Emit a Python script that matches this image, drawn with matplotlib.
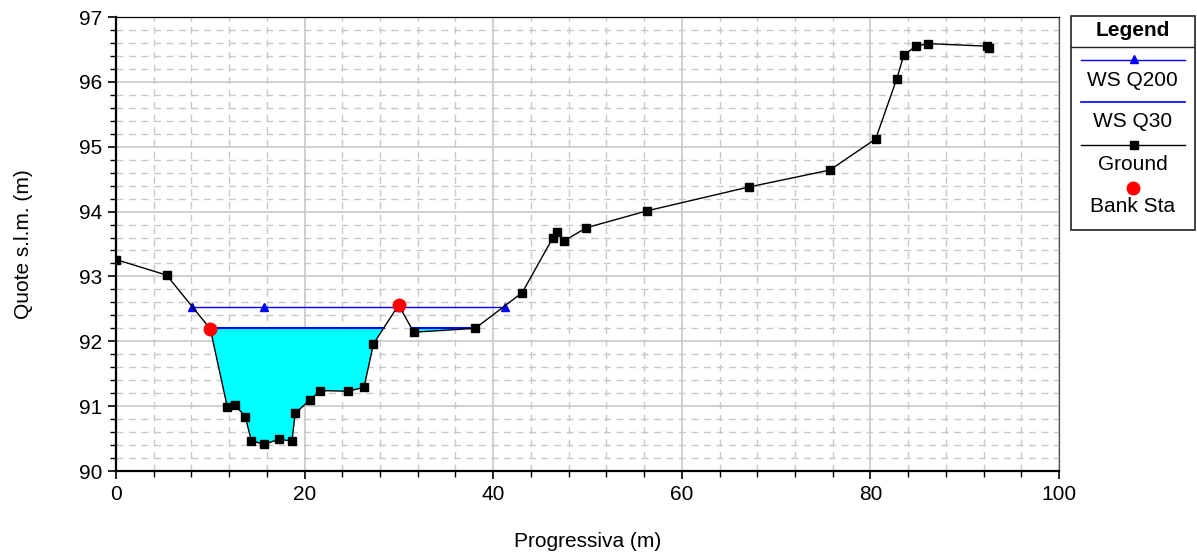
import matplotlib
matplotlib.use('Agg')
import matplotlib.pyplot as plt
from matplotlib.patches import Rectangle
from matplotlib.ticker import MultipleLocator
import numpy as np

plt.rcParams['font.family'] = ['Liberation Sans', 'DejaVu Sans']

# sezione trasversale (progressiva, quota)
ground_x = [0, 5.37, 10.0, 11.8, 12.6, 13.7, 14.35, 15.7, 17.3, 18.66, 19.0,
            20.6, 21.67, 24.6, 26.3, 27.3, 29.97, 31.57, 38.1, 43.08, 46.34,
            46.77, 47.54, 49.87, 56.28, 67.15, 75.7, 80.56, 82.8, 83.56,
            84.87, 86.07, 92.4, 92.6]
ground_y = [93.26, 93.02, 92.19, 90.99, 91.02, 90.84, 90.47, 90.41, 90.49,
            90.46, 90.89, 91.10, 91.24, 91.23, 91.29, 91.96, 92.56, 92.14,
            92.20, 92.75, 93.60, 93.68, 93.55, 93.75, 94.01, 94.38, 94.64,
            95.12, 96.05, 96.42, 96.55, 96.59, 96.55, 96.52]

bank_x = [10.0, 29.97]
bank_y = [92.19, 92.56]

ws200_x = [8.06, 15.73, 29.97, 41.2]
ws200_y = [92.53, 92.53, 92.53, 92.53]

ws30_level = 92.20


def tratti_bagnati(xs, ys, livello):
    # restituisce gli intervalli [x0, x1] dove il terreno sta sotto il livello
    tratti = []
    inizio = None
    for i in range(len(xs)):
        bagnato = ys[i] <= livello
        if i == 0:
            if bagnato:
                inizio = xs[0]
            continue
        prima = ys[i - 1] <= livello
        if bagnato != prima:
            xc = xs[i - 1] + (livello - ys[i - 1]) * (xs[i] - xs[i - 1]) / (ys[i] - ys[i - 1])
            if bagnato:
                inizio = xc
            else:
                tratti.append((inizio, xc))
                inizio = None
    if inizio is not None:
        tratti.append((inizio, xs[-1]))
    return tratti


fig = plt.figure(figsize=(11.97, 5.56), dpi=100)
W, H = 1197.0, 556.0
ax = fig.add_axes([116 / W, (H - 471) / H, (1059 - 116) / W, (471 - 17) / H])

gx = np.array(ground_x)
gy = np.array(ground_y)

ax.fill_between(gx, gy, ws30_level, where=gy <= ws30_level, interpolate=True,
                color='#00ffff', linewidth=0, zorder=2)
for x0, x1 in tratti_bagnati(ground_x, ground_y, ws30_level):
    ax.plot([x0, x1], [ws30_level, ws30_level], color='#0000ff', lw=1.5, zorder=3)

ax.plot(ws200_x, ws200_y, color='#0000ff', lw=1.0, marker='^', ms=6,
        mfc='#0000ff', mec='#0000ff', zorder=4)
ax.plot(ground_x, ground_y, color='black', lw=1.0, marker='s', ms=6,
        mfc='black', mec='black', zorder=5)
ax.plot(bank_x, bank_y, linestyle='none', marker='o', ms=9,
        mfc='#ff0000', mec='#ff0000', zorder=6)

ax.set_xlim(0, 100)
ax.set_ylim(90, 97)
ax.xaxis.set_major_locator(MultipleLocator(20))
ax.xaxis.set_minor_locator(MultipleLocator(4))
ax.yaxis.set_major_locator(MultipleLocator(1))
ax.yaxis.set_minor_locator(MultipleLocator(0.2))

ax.grid(which='major', color='#c8c8c8', lw=1.2, ls='-', zorder=0)
ax.grid(which='minor', color='#c8c8c8', lw=1.0, ls=(0, (5, 4)), zorder=0)
ax.set_axisbelow(True)

ax.tick_params(which='major', direction='out', length=6, width=1.2, labelsize=15, pad=4)
ax.tick_params(which='minor', direction='out', length=4, width=1.0)
ax.spines['left'].set_linewidth(1.6)
ax.spines['bottom'].set_linewidth(1.6)
ax.spines['top'].set_linewidth(0.9)
ax.spines['right'].set_linewidth(0.9)
ax.spines['right'].set_color('#555555')

ax.set_xlabel('Progressiva (m)', fontsize=15, labelpad=20)
ax.set_ylabel('Quote s.l.m. (m)', fontsize=15, labelpad=33)

# legenda disegnata a mano come in HEC-RAS
lg = fig.add_axes([1070.7 / W, (H - 230) / H, 124.3 / W, 214 / H])
lg.set_xlim(0, 124.3)
lg.set_ylim(214, 0)
lg.axis('off')
lg.add_patch(Rectangle((0, 0), 124.3, 214, fill=False, ec='#222222', lw=1.2, clip_on=False))
lg.plot([0, 124.3], [30.7, 30.7], color='#222222', lw=1.0)
lg.text(62, 14, 'Legend', ha='center', va='center', fontsize=15, fontweight='bold')

lg.plot([10, 114.3], [44, 44], color='#0000ff', lw=1.0)
lg.plot([63.3], [43], marker='^', ms=6, color='#0000ff')
lg.text(62, 64, 'WS Q200', ha='center', va='center', fontsize=15)

lg.plot([10, 114.3], [85.7, 85.7], color='#0000ff', lw=1.2)
lg.text(62, 105.7, 'WS Q30', ha='center', va='center', fontsize=15)

lg.plot([10, 114.3], [129, 129], color='black', lw=1.0)
lg.plot([63.3], [129], marker='s', ms=6, color='black')
lg.text(62, 148, 'Ground', ha='center', va='center', fontsize=15)

lg.plot([62], [171.7], marker='o', ms=9, color='#ff0000')
lg.text(62, 191, 'Bank Sta', ha='center', va='center', fontsize=15)

fig.savefig('out.png', dpi=100)
